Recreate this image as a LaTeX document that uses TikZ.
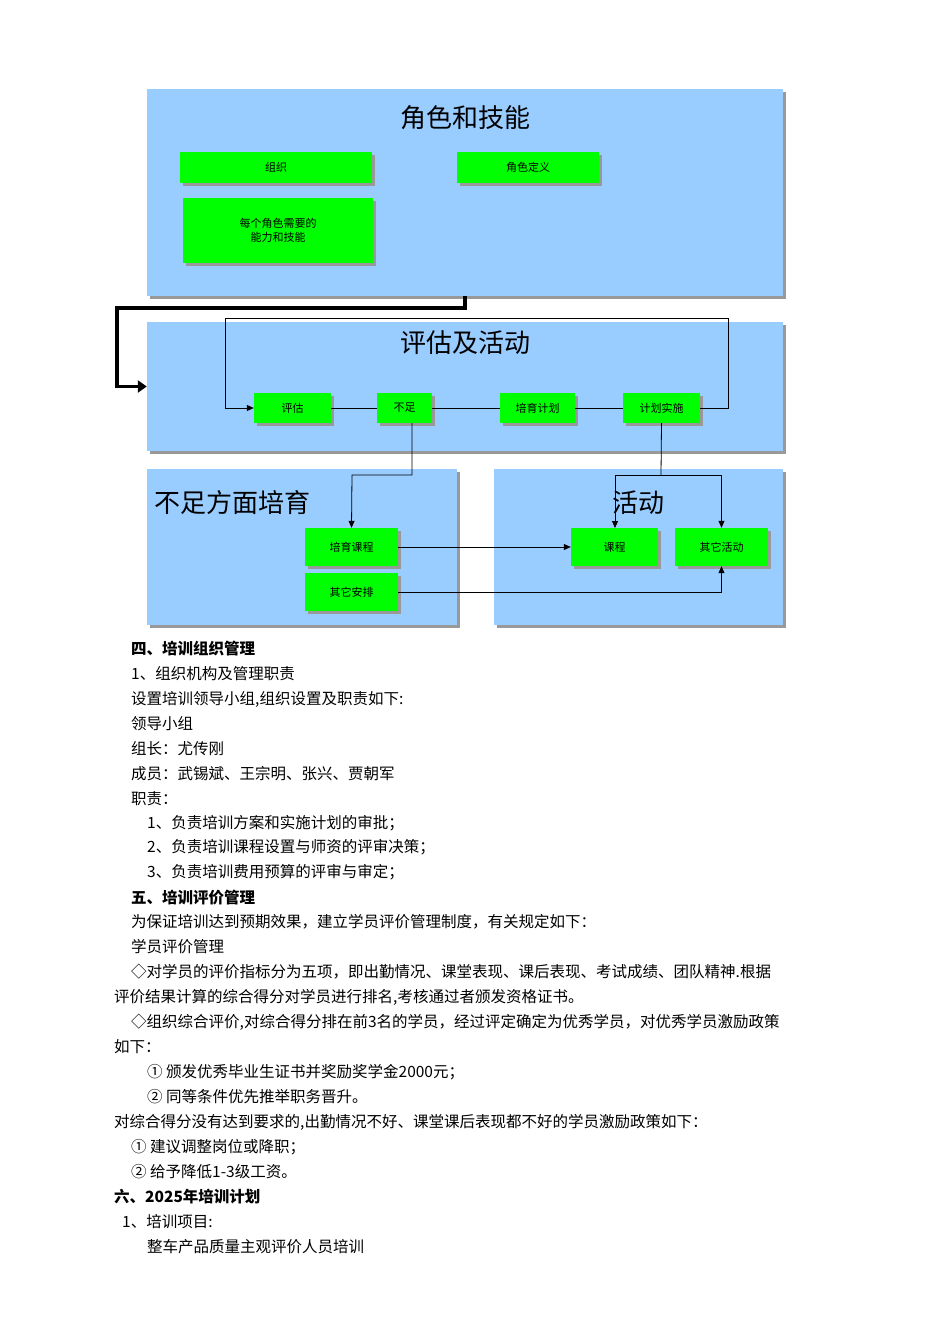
\documentclass[tikz,border=0pt]{standalone}
\usepackage{fontspec}
\setmainfont{Liberation Serif}
\newfontfamily\cjk{Noto Sans CJK SC}
\usetikzlibrary{shadows,arrows.meta}
\begin{document}
\begin{tikzpicture}[x=1pt,y=-1pt,
  shd/.style={drop shadow={shadow xshift=3pt,shadow yshift=-3pt,fill=black!40,opacity=1}},
  bluebox/.style={fill={rgb,255:red,153;green,204;blue,255},shd,inner sep=0},
  gbox/.style={fill={rgb,255:red,0;green,255;blue,0},shd,inner sep=0,font=\cjk\fontsize{11}{14}\selectfont,align=center},
  ttl/.style={font=\cjk\fontsize{26}{30}\selectfont,inner sep=0},
  ln/.style={anchor=west,inner sep=0,font=\cjk\fontsize{15.5}{18}\selectfont},
  bl/.style={ln,font=\cjk\bfseries\fontsize{15.5}{18}\selectfont},
  con/.style={draw=black,line width=0.8pt},
  arr/.style={con,-{Triangle[length=7pt,width=6pt]}}]
\useasboundingbox (0,0) rectangle (950,1344);
\fill[white] (0,0) rectangle (950,1344);
% big boxes
\node[bluebox,minimum width=636,minimum height=207] (b1) at (465,192.5) {};
\node[bluebox,minimum width=636,minimum height=129] (b2) at (465,386.5) {};
\node[bluebox,minimum width=310,minimum height=156] (b3) at (302,547) {};
\node[bluebox,minimum width=289,minimum height=156] (b4) at (638.5,547) {};
\node[ttl] (t1) at (465,118) {角色和技能};
\node[ttl] (t2) at (465,343) {评估及活动};
\node[ttl,anchor=west] (t3) at (154,503) {不足方面培育};
\node[ttl] (t4) at (638,503) {活动};
% green nodes
\node[gbox,minimum width=192,minimum height=31] (zz) at (276,167.5) {组织};
\node[gbox,minimum width=142,minimum height=31] (js) at (528,167.5) {角色定义};
\node[gbox,minimum width=190,minimum height=65] (nl) at (278,230.5) {每个角色需要的\\能力和技能};
\node[gbox,minimum width=77,minimum height=30] (pg) at (292.5,408) {评估};
\node[gbox,minimum width=55,minimum height=30] (bz) at (404.5,408) {不足};
\node[gbox,minimum width=75,minimum height=30] (py) at (537.5,408) {培育计划};
\node[gbox,minimum width=77,minimum height=30] (ss) at (661.5,408) {计划实施};
\node[gbox,minimum width=93,minimum height=38] (kc) at (351.5,547) {培育课程};
\node[gbox,minimum width=93,minimum height=38] (ap) at (351.5,592) {其它安排};
\node[gbox,minimum width=87,minimum height=38] (kc2) at (614.5,547) {课程};
\node[gbox,minimum width=93,minimum height=38] (hd) at (721.5,547) {其它活动};
% connectors
\draw[line width=3.5pt,-{Triangle[length=9pt,width=12pt]}] (b1.south) ++(0,0) |- (117,308) |- (b2.west);
\draw[con] (pg) -- (bz); \draw[con] (bz) -- (py); \draw[con] (py) -- (ss);
\draw[arr] (ss.east) -- (728,408) |- (225,318) |- (pg.west);
\draw[arr] (bz.south -| 412,0) |- (352,475) -- (kc.north);
\coordinate (br) at (661,475);
\draw[con] (ss.south) -- (br);
\draw[arr] (br) -| (615,528);
\draw[arr] (br) -| (hd.north);
\draw[arr] (kc.east) -- (kc2.west);
\draw[arr] (ap.east) -| (hd.south);
% text
\node[bl] (l1) at (131,649) {四、培训组织管理};
\node[ln] (l2) at (131,674) {1、组织机构及管理职责};
\node[ln] (l3) at (131,699) {设置培训领导小组,组织设置及职责如下:};
\node[ln] (l4) at (131,724) {领导小组};
\node[ln] (l5) at (131,749) {组长：尤传刚};
\node[ln] (l6) at (131,774) {成员：武锡斌、王宗明、张兴、贾朝军};
\node[ln] (l7) at (131,799) {职责：};
\node[ln] (l8) at (147,823) {1、负责培训方案和实施计划的审批；};
\node[ln] (l9) at (147,847) {2、负责培训课程设置与师资的评审决策；};
\node[ln] (l10) at (147,872) {3、负责培训费用预算的评审与审定；};
\node[bl] (l11) at (131,898) {五、培训评价管理};
\node[ln] (l12) at (131,922) {为保证培训达到预期效果，建立学员评价管理制度，有关规定如下：};
\node[ln] (l13) at (131,947) {学员评价管理};
\node[ln,text width=705pt,align=justify] (l14) at (131,972) {◇对学员的评价指标分为五项，即出勤情况、课堂表现、课后表现、考试成绩、团队精神.根据};
\node[ln] (l15) at (114,997) {评价结果计算的综合得分对学员进行排名,考核通过者颁发资格证书。};
\node[ln] (l16) at (131,1022) {◇组织综合评价,对综合得分排在前3名的学员，经过评定确定为优秀学员，对优秀学员激励政策};
\node[ln] (l17) at (114,1047) {如下：};
\node[ln] (l18) at (147,1072) {① 颁发优秀毕业生证书并奖励奖学金2000元；};
\node[ln] (l19) at (147,1097) {② 同等条件优先推举职务晋升。};
\node[ln] (l20) at (114,1122) {对综合得分没有达到要求的,出勤情况不好、课堂课后表现都不好的学员激励政策如下：};
\node[ln] (l21) at (131,1147) {① 建议调整岗位或降职；};
\node[ln] (l22) at (131,1172) {② 给予降低1-3级工资。};
\node[bl] (l23) at (114,1197) {六、2025年培训计划};
\node[ln] (l24) at (122,1222) {1、培训项目:};
\node[ln] (l25) at (147,1247) {整车产品质量主观评价人员培训};
\end{tikzpicture}
\end{document}
